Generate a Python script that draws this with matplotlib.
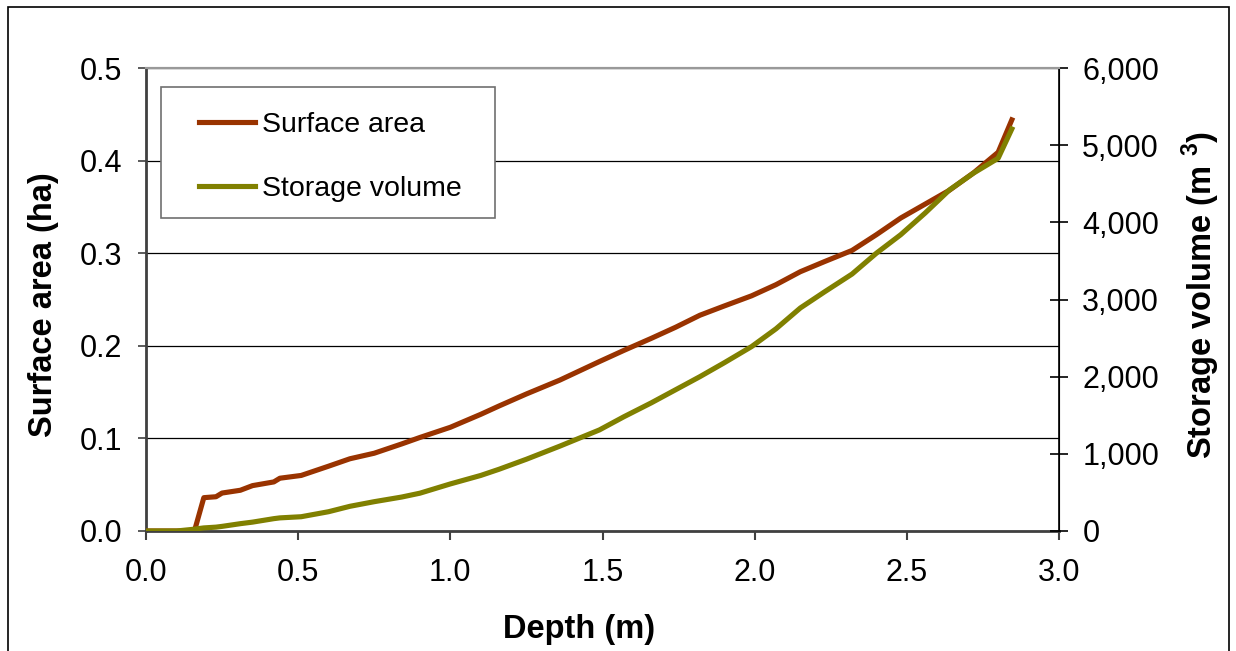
import matplotlib
matplotlib.use("Agg")
import matplotlib.pyplot as plt
from matplotlib.patches import Rectangle
from matplotlib.ticker import FuncFormatter

plt.rcParams["font.family"] = ["Liberation Sans", "DejaVu Sans"]
plt.rcParams["mathtext.fontset"] = "custom"
plt.rcParams["mathtext.rm"] = "Liberation Sans:bold"
plt.rcParams["mathtext.bf"] = "Liberation Sans:bold"

# Depth (m)
depth = [0.00, 0.05, 0.10, 0.15, 0.16, 0.19, 0.23, 0.25, 0.31, 0.35, 0.42,
         0.44, 0.51, 0.60, 0.67, 0.75, 0.84, 0.90, 1.00, 1.10, 1.16, 1.25,
         1.36, 1.49, 1.57, 1.66, 1.74, 1.82, 1.90, 1.99, 2.07, 2.15, 2.23,
         2.32, 2.40, 2.48, 2.56, 2.64, 2.72, 2.80, 2.845]

# Surface area (ha)
surface_area = [0.000, 0.000, 0.000, 0.000, 0.001, 0.036, 0.037, 0.041,
                0.044, 0.049, 0.053, 0.057, 0.060, 0.070, 0.078, 0.084,
                0.094, 0.101, 0.112, 0.126, 0.135, 0.148, 0.163, 0.183,
                0.195, 0.208, 0.220, 0.233, 0.243, 0.254, 0.266, 0.280,
                0.291, 0.303, 0.320, 0.338, 0.353, 0.368, 0.387, 0.409,
                0.444]

# Storage volume (m3)
storage_volume = [0, 0, 0, 20, 25, 40, 50, 60, 95, 115, 160, 170, 185, 250,
                  320, 380, 440, 490, 610, 720, 800, 930, 1100, 1310, 1480,
                  1660, 1830, 2000, 2180, 2390, 2620, 2890, 3100, 3330, 3600,
                  3840, 4120, 4420, 4640, 4830, 5210]

x_ticks = [0.0, 0.5, 1.0, 1.5, 2.0, 2.5, 3.0]
area_ticks = [0.0, 0.1, 0.2, 0.3, 0.4, 0.5]
volume_ticks = [0, 1000, 2000, 3000, 4000, 5000, 6000]

RED = "#993300"
OLIVE = "#808000"
FS_TICK = 22
FS_LABEL = 23.5
FS_LEG = 20.5

fig = plt.figure(figsize=(12.36, 6.51), dpi=100)
ax = fig.add_axes([146 / 1236, 1 - 531 / 651, 913 / 1236, 463 / 651])
ax2 = ax.twinx()

# Cadre extérieur.
fig.patches.append(Rectangle((8 / 1236, -0.1), 1221 / 1236, 1 + 0.1 - 7 / 651,
                             transform=fig.transFigure, fill=False,
                             edgecolor="black", linewidth=1.2))

line_area, = ax.plot(depth, surface_area, color=RED, linewidth=3.7,
                     label="Surface area", zorder=3)
line_vol, = ax2.plot(depth, storage_volume, color=OLIVE, linewidth=3.7,
                     label="Storage volume", zorder=3)

ax.set_xlim(0, 3.0)
ax.set_ylim(0, 0.5)
ax2.set_ylim(0, 6000)
ax.set_xticks(x_ticks)
ax.set_yticks(area_ticks)
ax2.set_yticks(volume_ticks)
ax.xaxis.set_major_formatter(FuncFormatter(lambda v, p: f"{v:.1f}"))
ax.yaxis.set_major_formatter(FuncFormatter(lambda v, p: f"{v:.1f}"))
ax2.yaxis.set_major_formatter(FuncFormatter(lambda v, p: f"{int(v):,}"))

ax.grid(True, axis="y", color="black", linewidth=0.9, zorder=1)
ax.set_axisbelow(True)

for a in (ax, ax2):
    a.spines["top"].set_color("#999999")
    a.spines["top"].set_linewidth(1.5)
ax.spines["left"].set_color("#404040")
ax.spines["left"].set_linewidth(2)
ax.spines["bottom"].set_color("#404040")
ax.spines["bottom"].set_linewidth(2)
ax2.spines["right"].set_color("black")
ax2.spines["right"].set_linewidth(1.2)
ax2.spines["left"].set_visible(False)
ax2.spines["bottom"].set_visible(False)

ax.tick_params(axis="y", direction="out", length=6, width=1.2,
               color="#404040", labelsize=FS_TICK, pad=11)
ax.tick_params(axis="x", direction="out", length=6.5, width=1.5,
               color="#404040", labelsize=FS_TICK, pad=13)
ax2.tick_params(axis="y", direction="inout", length=13.5, width=1.2,
                color="black", labelsize=FS_TICK, pad=10)

ax.set_xlabel("Depth (m)", fontsize=FS_LABEL, fontweight="bold")
ax.xaxis.set_label_coords(0.474, -0.18)
ax.set_ylabel("Surface area (ha)", fontsize=FS_LABEL, fontweight="bold")
ax.yaxis.set_label_coords(-0.095, 0.49)
ax2.set_ylabel(r"Storage volume (m $^{3}$)", fontsize=FS_LABEL,
               fontweight="bold")
ax2.yaxis.set_label_coords(1.132, 0.51)

# Légende dans un cadre gris.
ax2.add_patch(Rectangle((15 / 913, (531 - 218) / 463), 334 / 913, 131 / 463,
                        transform=ax2.transAxes, facecolor="white",
                        edgecolor="#707070", linewidth=1.2, zorder=4))
leg = ax2.legend(handles=[line_area, line_vol], loc="upper left",
                 bbox_to_anchor=(53 / 913, (531 - 112) / 463),
                 frameon=False, fontsize=FS_LEG, handlelength=1.95,
                 handletextpad=0.25, labelspacing=1.32, borderpad=0,
                 borderaxespad=0)
leg.set_zorder(5)

fig.savefig("out.png", dpi=100)
